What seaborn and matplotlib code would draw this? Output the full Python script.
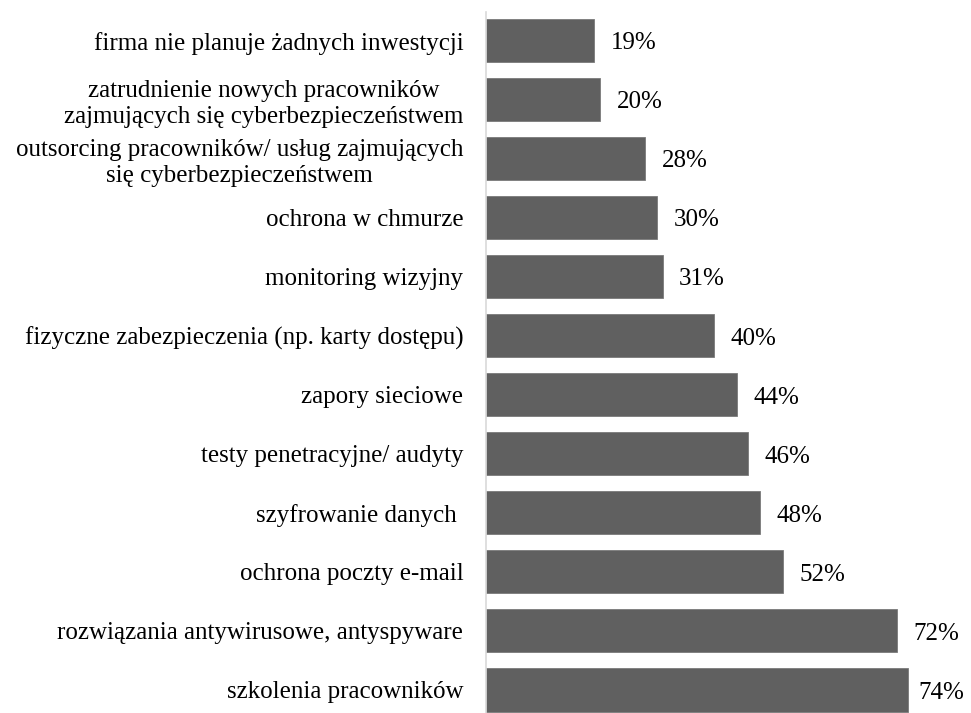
import matplotlib
matplotlib.use("Agg")
import matplotlib.pyplot as plt
import seaborn as sns
import pandas as pd

categories = [
    "firma nie planuje żadnych inwestycji",
    "zatrudnienie nowych pracowników\nzajmujących się cyberbezpieczeństwem",
    "outsorcing pracowników/ usług zajmujących\nsię cyberbezpieczeństwem",
    "ochrona w chmurze",
    "monitoring wizyjny",
    "fizyczne zabezpieczenia (np. karty dostępu)",
    "zapory sieciowe",
    "testy penetracyjne/ audyty",
    "szyfrowanie danych ",
    "ochrona poczty e-mail",
    "rozwiązania antywirusowe, antyspyware",
    "szkolenia pracowników",
]
values = [19, 20, 28, 30, 31, 40, 44, 46, 48, 52, 72, 74]
value_labels = ["19%", "20%", "28%", "30%", "31%", "40%", "44%", "46%", "48%", "52%", "72%", "74%"]

df = pd.DataFrame({"category": categories, "value": values})

sns.set_theme(style="white")
plt.rcParams["font.family"] = ["Liberation Serif", "DejaVu Serif"]

fig = plt.figure(figsize=(9.71, 7.13), dpi=100)
ax = fig.add_axes([485.5 / 971, 0.0, 1 - 485.5 / 971, (713 - 12) / 713])

sns.barplot(data=df, x="value", y="category", order=categories, color="#606060",
            saturation=1, width=0.73, ax=ax, edgecolor="#7a7a7a", linewidth=0.6)

ax.set_xlim(0, 85)
ax.set_ylim(11.39, -0.483)
ax.set_xlabel("")
ax.set_ylabel("")
ax.set_xticks([])
for s in ["top", "right", "bottom"]:
    ax.spines[s].set_visible(False)
ax.spines["left"].set_color("#d9d9d9")
ax.spines["left"].set_linewidth(1.2)

ax.tick_params(axis="y", length=0, pad=16, labelsize=18, labelcolor="#000000")
for t in ax.get_yticklabels():
    t.set_multialignment("center")
    t.set_linespacing(1.25)

bars = ax.containers[0]
for i, (rect, lab) in enumerate(zip(bars, value_labels)):
    x_end = rect.get_x() + rect.get_width()
    y_c = rect.get_y() + rect.get_height() / 2
    pad = 7 if i == len(value_labels) - 1 else 12
    ax.annotate(lab, xy=(x_end, y_c), xytext=(pad, -2), textcoords="offset points",
                ha="left", va="center", fontsize=18, color="#000000",
                annotation_clip=False)

fig.savefig("out.png", dpi=100)
